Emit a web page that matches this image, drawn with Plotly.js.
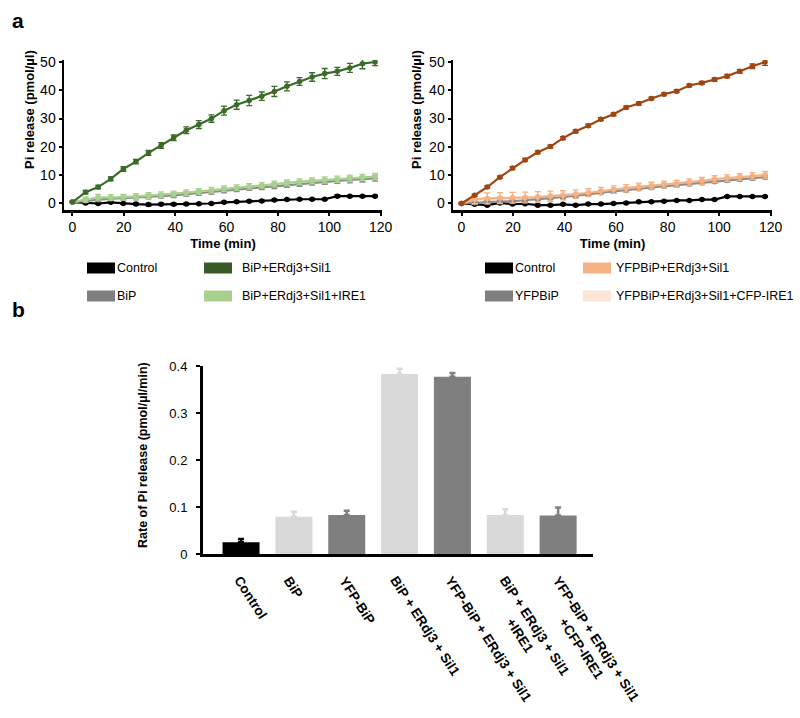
<!DOCTYPE html>
<html>
<head>
<meta charset="utf-8">
<script src="https://cdn.plot.ly/plotly-3.0.1.min.js"></script>
<style>body{margin:0;background:#fff;} #chart{width:800px;height:718px;}</style>
</head>
<body>
<div id="chart"></div>
<script>
// ---------- DATA ----------
const timeMin = [0, 5.1, 10, 14.9, 19.8, 24.7, 29.6, 34.5, 39.4, 44.3, 49.2, 54.1, 59, 63.9, 68.8, 73.7, 78.6, 83.5, 88.4, 93.3, 98.2, 103.1, 108, 112.9, 117.8];

// Panel a, left
const ctrlL = [0.5, 0.2, 0, 0.4, 0, -0.2, -0.4, -0.3, -0.3, -0.2, -0.1, 0, 0.4, 0.6, 0.8, 0.9, 1.2, 1.4, 1.5, 1.5, 1.5, 2.6, 2.6, 2.6, 2.6];
const ctrlLErr = [0.2, 0.3, 0.3, 0.3, 0.3, 0.4, 0.4, 0.4, 0.4, 0.4, 0.3, 0.3, 0.3, 0.3, 0.3, 0.3, 0.3, 0.3, 0.3, 0.3, 0.3, 0.4, 0.3, 0.3, 0.3];
const bipL = [0.5, 1.0, 1.4, 1.7, 1.9, 2.1, 2.4, 2.7, 2.9, 3.3, 3.7, 4.1, 4.6, 5.0, 5.4, 5.8, 6.2, 6.6, 7.0, 7.4, 7.7, 8.0, 8.3, 8.6, 8.9];
const bipLErr = [0.2, 0.6, 0.7, 0.7, 0.7, 0.8, 0.8, 0.8, 0.8, 0.8, 0.8, 0.8, 0.8, 0.8, 0.8, 0.9, 0.9, 0.9, 0.9, 0.9, 0.9, 0.9, 1.0, 1.0, 1.0];
const sil1L = [0.5, 4.0, 5.8, 8.7, 12.2, 14.8, 17.9, 20.5, 23.2, 25.9, 27.9, 30.0, 32.8, 34.9, 36.4, 37.9, 39.6, 41.4, 43.1, 44.7, 45.9, 46.7, 47.9, 49.4, 50.0];
const sil1LErr = [0.2, 0.6, 0.6, 0.7, 0.8, 0.8, 0.9, 1.0, 1.0, 1.2, 1.4, 1.3, 1.6, 1.6, 1.8, 1.5, 1.8, 1.6, 1.4, 1.5, 1.8, 1.4, 1.6, 1.8, 1.3];
const ire1L = [0.5, 1.4, 2.2, 2.1, 2.2, 2.5, 2.8, 3.1, 3.4, 3.8, 4.2, 4.7, 5.2, 5.6, 6.0, 6.4, 6.9, 7.3, 7.7, 8.0, 8.3, 8.6, 8.9, 9.2, 9.5];
const ire1LErr = [0.2, 0.9, 1.0, 1.0, 1.0, 1.0, 1.0, 1.0, 1.0, 1.0, 1.0, 1.0, 1.0, 1.0, 1.0, 1.0, 1.0, 1.0, 1.0, 1.0, 1.1, 1.1, 1.1, 1.1, 1.1];

// Panel a, right
const ctrlR = [0, -0.3, -0.6, 0.2, -0.2, -0.1, -0.6, -0.6, -0.3, -0.6, -0.2, -0.2, 0, 0.2, 0.6, 0.6, 0.8, 1.1, 1.1, 1.4, 1.4, 2.5, 2.5, 2.5, 2.5];
const ctrlRErr = [0.2, 0.3, 0.3, 0.3, 0.3, 0.3, 0.3, 0.3, 0.3, 0.3, 0.3, 0.3, 0.3, 0.3, 0.3, 0.3, 0.3, 0.3, 0.3, 0.3, 0.3, 0.3, 0.3, 0.3, 0.3];
const yfpR = [0, 0.3, 0.5, 0.7, 0.8, 1.1, 1.5, 1.9, 2.3, 2.7, 3.2, 3.8, 4.3, 4.7, 5.2, 5.6, 6.1, 6.5, 6.9, 7.3, 7.7, 8.1, 8.5, 8.9, 9.3];
const yfpRErr = [0.2, 0.5, 0.5, 0.5, 0.5, 0.5, 0.5, 0.5, 0.6, 0.6, 0.6, 0.6, 0.6, 0.6, 0.6, 0.6, 0.6, 0.6, 0.6, 0.6, 0.6, 0.6, 0.6, 0.6, 0.6];
const sil1R = [0, 2.9, 5.8, 9.3, 12.5, 15.4, 18.1, 20.1, 23.1, 25.5, 27.5, 29.8, 31.5, 33.9, 35.3, 37.1, 38.6, 39.7, 41.7, 42.6, 43.8, 45.0, 46.7, 48.5, 50.0];
const sil1RErr = [0.2, 0.4, 0.4, 0.4, 0.5, 0.5, 0.5, 0.5, 0.5, 0.5, 0.5, 0.5, 0.5, 0.5, 0.5, 0.5, 0.5, 0.5, 0.5, 0.5, 0.6, 0.6, 0.6, 0.8, 1.2];
const ire1R = [0, 0.8, 1.2, 1.4, 1.6, 1.8, 2.1, 2.4, 2.7, 3.1, 3.5, 4.1, 4.6, 5.0, 5.5, 5.9, 6.4, 6.8, 7.2, 7.6, 8.1, 8.5, 8.9, 9.3, 9.7];
const ire1RErr = [0.2, 1.0, 1.0, 1.0, 1.0, 1.0, 1.0, 1.0, 1.0, 1.0, 1.0, 1.0, 1.0, 1.0, 1.0, 1.0, 1.0, 1.0, 1.0, 1.0, 1.0, 1.0, 1.0, 1.0, 1.0];
const orR = [0, 1.5, 1.8, 1.9, 2.0, 2.1, 2.3, 2.6, 2.9, 3.3, 3.8, 4.4, 4.9, 5.4, 5.9, 6.3, 6.7, 7.0, 7.5, 8.0, 8.6, 8.9, 9.3, 9.7, 10.1];
const orRErr = [0.2, 1.6, 1.9, 1.9, 1.9, 1.9, 1.9, 1.8, 1.6, 1.5, 1.4, 1.3, 1.3, 1.3, 1.3, 1.2, 1.2, 1.2, 1.2, 1.2, 1.2, 1.2, 1.2, 1.2, 1.2];

const timeTicks = [0, 20, 40, 60, 80, 100, 120];
const piTicks = [0, 10, 20, 30, 40, 50];

// Panel b
const barCats = ["Control", "BiP", "YFP-BiP", "BiP + ERdj3 + Sil1", "YFP-BiP + ERdj3 + Sil1", "BiP + ERdj3 + Sil1<br>+IRE1", "YFP-BiP + ERdj3 + Sil1<br>+CFP-IRE1"];
const barRates = [0.025, 0.079, 0.083, 0.383, 0.377, 0.083, 0.082];
const barErr = [0.007, 0.011, 0.009, 0.011, 0.008, 0.012, 0.017];
const barColors = ["#000000", "#d9d9d9", "#7f7f7f", "#d9d9d9", "#7f7f7f", "#d9d9d9", "#7f7f7f"];
const rateTicks = [0, 0.1, 0.2, 0.3, 0.4];
const rateTickText = ["0", "0.1", "0.2", "0.3", "0.4"];

const legLeft = [["Control", "#000000"], ["BiP", "#7f7f7f"], ["BiP+ERdj3+Sil1", "#375a26"], ["BiP+ERdj3+Sil1+IRE1", "#a9d18e"]];
const legRight = [["Control", "#000000"], ["YFPBiP", "#7f7f7f"], ["YFPBiP+ERdj3+Sil1", "#f4b183"], ["YFPBiP+ERdj3+Sil1+CFP-IRE1", "#fbe5d6"]];

// ---------- HELPERS ----------
const W = 800, H = 718;
const px = x => x / W;
const py = y => 1 - y / H;
const FONT = "Liberation Sans, Arial, Helvetica, sans-serif";

function series(y, err, color, xa, ya) {
  return {
    x: timeMin, y: y, type: "scatter", mode: "lines+markers",
    xaxis: xa, yaxis: ya, showlegend: false,
    line: {color: color, width: 2.2},
    marker: {color: color, size: 5.5},
    error_y: {type: "data", array: err, visible: true, color: color, thickness: 1.3, width: 3}
  };
}

const traces = [
  series(ctrlL, ctrlLErr, "#000000", "x", "y"),
  series(bipL, bipLErr, "#8c8c8c", "x", "y"),
  series(ire1L, ire1LErr, "#a9d18e", "x", "y"),
  series(sil1L, sil1LErr, "#3b6b2a", "x", "y"),
  series(ctrlR, ctrlRErr, "#000000", "x2", "y2"),
  series(ire1R, ire1RErr, "#fbe5d6", "x2", "y2"),
  series(yfpR, yfpRErr, "#8c8c8c", "x2", "y2"),
  series(orR, orRErr, "#f4b183", "x2", "y2"),
  series(sil1R, sil1RErr, "#9e4713", "x2", "y2")
];

// bars grouped by colour so each error bar matches its bar colour
[...new Set(barColors)].forEach(col => {
  const idx = barCats.map((c, i) => i).filter(i => barColors[i] === col);
  traces.push({
    x: idx.map(i => barCats[i]), y: idx.map(i => barRates[i]),
    type: "bar", xaxis: "x3", yaxis: "y3", showlegend: false, width: 0.7,
    marker: {color: col, line: {width: 0}},
    error_y: {type: "data", array: idx.map(i => barErr[i]), arrayminus: idx.map(() => 0), symmetric: false,
              visible: true, color: col, thickness: 2.5, width: 3}
  });
});

function topX(domain, anchor) {
  return {
    domain: domain, anchor: anchor, range: [-3.3, 120.5], tickvals: timeTicks,
    showline: true, linecolor: "#000", linewidth: 2.5, ticks: "outside", ticklen: 3, tickwidth: 2, tickcolor: "#000",
    showgrid: false, zeroline: false, tickfont: {size: 14, color: "#000", family: FONT},
    title: {text: "Time (min)", font: {size: 13, color: "#000", family: FONT, weight: "bold"}, standoff: 5}
  };
}
function topY(domain, anchor) {
  return {
    domain: domain, anchor: anchor, range: [-2.3, 50.7], tickvals: piTicks,
    showline: true, linecolor: "#000", linewidth: 2.5, ticks: "outside", ticklen: 3, tickwidth: 2, tickcolor: "#000",
    showgrid: false, zeroline: false, tickfont: {size: 14, color: "#000", family: FONT}, ticklabelstandoff: 0
  };
}

const topYDom = [py(210), py(60)];

const shapes = [];
const annotations = [
  {text: "a", x: px(10), y: py(20), xref: "paper", yref: "paper", xanchor: "left", yanchor: "middle", showarrow: false, font: {size: 21, family: FONT, weight: "bold", color: "#000"}},
  {text: "b", x: px(10), y: py(310), xref: "paper", yref: "paper", xanchor: "left", yanchor: "middle", showarrow: false, font: {size: 21, family: FONT, weight: "bold", color: "#000"}},
  {text: "Pi release (pmol/µl)", x: px(29), y: py(110), xref: "paper", yref: "paper", textangle: -90, xanchor: "center", yanchor: "middle", showarrow: false, font: {size: 13, family: FONT, weight: "bold", color: "#000"}},
  {text: "Pi release (pmol/µl)", x: px(416), y: py(110), xref: "paper", yref: "paper", textangle: -90, xanchor: "center", yanchor: "middle", showarrow: false, font: {size: 13, family: FONT, weight: "bold", color: "#000"}},
  {text: "Rate of Pi release (pmol/µl/min)", x: px(143), y: py(455), xref: "paper", yref: "paper", textangle: -90, xanchor: "center", yanchor: "middle", showarrow: false, font: {size: 12.5, family: FONT, weight: "bold", color: "#000"}}
];

// rotated category labels for panel b, placed on the category axis
const labelShift = [-13, -16, -13, -15, -13, -26, -26];
barCats.forEach((c, i) => {
  annotations.push({
    text: c, x: c, xref: "x3", y: py(571), yref: "paper", xanchor: "left", yanchor: "top",
    xshift: labelShift[i], textangle: 57, align: "center", showarrow: false,
    font: {size: 13.5, family: FONT, weight: "bold", color: "#000"}
  });
});

function addLegend(items, cols) {
  const rowsY = [268, 296];
  items.forEach((it, i) => {
    const col = Math.floor(i / 2), row = i % 2;
    const sx = cols[col][0], tx = cols[col][1], yy = rowsY[row];
    shapes.push({type: "rect", xref: "paper", yref: "paper", x0: px(sx), x1: px(sx + 28), y0: py(yy + 5.5), y1: py(yy - 5.5), fillcolor: it[1], line: {width: 0}});
    annotations.push({text: it[0], x: px(tx), y: py(yy), xref: "paper", yref: "paper", xanchor: "left", yanchor: "middle", showarrow: false, font: {size: 12.5, family: FONT, color: "#000"}});
  });
}
addLegend(legLeft, [[87, 115], [204, 240]]);
addLegend(legRight, [[485, 513], [583, 614]]);

const layout = {
  width: W, height: H, margin: {l: 0, r: 0, t: 0, b: 0},
  paper_bgcolor: "#fff", plot_bgcolor: "#fff", showlegend: false, barmode: "overlay",
  font: {family: FONT, color: "#000"},
  xaxis: topX([px(64), px(382)], "y"),
  yaxis: topY(topYDom, "x"),
  xaxis2: topX([px(453), px(772)], "y2"),
  yaxis2: topY(topYDom, "x2"),
  xaxis3: {
    domain: [px(203), px(593)], anchor: "y3", range: [-0.72, 6.66], type: "category",
    categoryorder: "array", categoryarray: barCats,
    showline: true, linecolor: "#000", linewidth: 3, ticks: "", showgrid: false, zeroline: false,
    showticklabels: false
  },
  yaxis3: {
    domain: [py(554), py(366)], anchor: "x3", range: [0, 0.4], tickvals: rateTicks, ticktext: rateTickText,
    showline: true, linecolor: "#000", linewidth: 3, ticks: "outside", ticklen: 4, tickwidth: 2, tickcolor: "#000",
    showgrid: false, zeroline: false, tickfont: {size: 13, family: FONT, color: "#000"}, ticklabelstandoff: 6
  },
  shapes: shapes,
  annotations: annotations
};

Plotly.newPlot("chart", traces, layout, {staticPlot: true, displayModeBar: false});
</script>
</body>
</html>
